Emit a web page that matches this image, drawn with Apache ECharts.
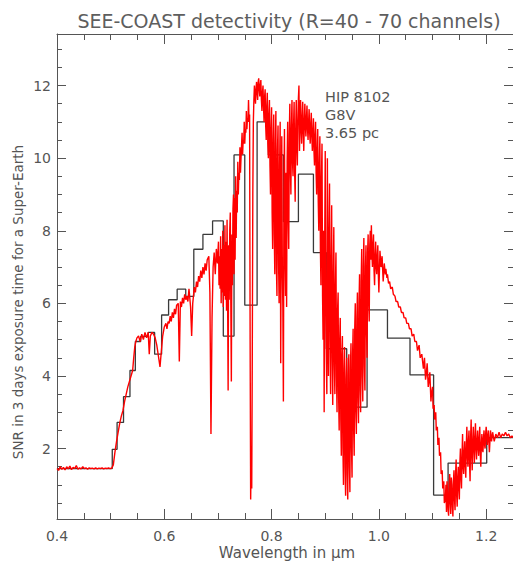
<!DOCTYPE html>
<html>
<head>
<meta charset="utf-8">
<script src="https://cdn.jsdelivr.net/npm/echarts@6/dist/echarts.min.js"></script>
<style>html,body{margin:0;padding:0;background:#fff}#c{width:513px;height:563px}</style>
</head>
<body>
<div id="c"></div>
<script>
// ---- data ----
var xTicks = [0.4, 0.6, 0.8, 1.0, 1.2];
var xMinorTicks = [0.45, 0.5, 0.55, 0.65, 0.7, 0.75, 0.85, 0.9, 0.95, 1.05, 1.1, 1.15];
var yTicks = [2, 4, 6, 8, 10, 12];
var yMinorTicks = [0.5, 1, 1.5, 2.5, 3, 3.5, 4.5, 5, 5.5, 6.5, 7, 7.5, 8.5, 9, 9.5, 10.5, 11, 11.5, 12.5, 13];

// binned SNR (R=40-70 channels): left edge of each bin and its SNR
var binStart = [0.400, 0.503, 0.512, 0.524, 0.536, 0.546, 0.556, 0.570, 0.582, 0.595, 0.608, 0.624, 0.640, 0.655, 0.672, 0.690, 0.710, 0.730, 0.750, 0.773, 0.794, 0.822, 0.850, 0.878, 0.902, 0.940, 0.978, 1.016, 1.058, 1.102, 1.129, 1.201];
var binSnr   = [1.45, 1.98, 2.72, 3.43, 4.15, 4.95, 5.09, 5.20, 4.60, 5.68, 6.10, 6.39, 6.19, 7.49, 7.90, 8.27, 5.10, 10.09, 5.95, 11.00, 10.09, 8.25, 9.56, 7.40, 4.75, 3.14, 5.82, 5.04, 4.03, 0.72, 1.60, 2.30];
var binEnd = 1.25;

// high resolution SNR spectrum [wavelength (um), SNR]
var spectrum = [
[0.400,1.45],[0.403,1.40],[0.406,1.50],[0.409,1.43],[0.412,1.48],[0.415,1.41],[0.418,1.50],[0.421,1.44],[0.424,1.52],[0.427,1.42],[0.430,1.48],[0.433,1.45],[0.436,1.53],[0.439,1.43],[0.442,1.47],[0.445,1.44],[0.448,1.50],[0.451,1.45],[0.454,1.47],[0.457,1.43],[0.460,1.47],[0.463,1.45],[0.466,1.46],[0.469,1.44],[0.472,1.47],[0.475,1.44],[0.478,1.46],[0.481,1.45],[0.484,1.47],[0.487,1.44],[0.490,1.46],[0.493,1.45],[0.496,1.47],[0.499,1.45],[0.502,1.46],
[0.505,1.55],[0.508,1.9],[0.511,2.2],[0.514,2.45],[0.517,2.7],[0.520,2.9],[0.523,3.05],[0.526,3.3],[0.529,3.5],[0.532,3.7],[0.535,3.85],[0.538,4.0],[0.541,4.15],[0.543,4.5],[0.545,4.8],[0.547,4.95],[0.549,5.05],
[0.552,5.1],[0.555,4.95],[0.558,5.15],[0.561,5.0],[0.564,5.2],[0.567,5.05],[0.570,5.2],[0.572,4.6],[0.574,5.1],[0.577,5.2],[0.580,5.15],[0.583,5.05],[0.586,4.85],[0.589,4.55],[0.592,4.25],[0.594,4.6],[0.597,5.1],[0.600,5.35],
[0.603,5.45],[0.605,5.3],[0.607,5.5],[0.609,5.45],[0.611,5.65],[0.613,5.5],[0.615,5.75],[0.617,5.6],[0.619,5.85],[0.621,5.7],[0.623,5.95],[0.626,6.0],[0.628,4.4],[0.630,6.05],[0.632,5.9],[0.634,6.15],[0.636,6.0],[0.638,6.25],[0.640,6.1],[0.642,6.2],[0.644,6.05],[0.646,6.4],[0.649,5.9],[0.651,5.1],[0.653,6.0],[0.656,6.45],[0.658,6.3],[0.660,6.6],[0.662,6.45],[0.664,6.75],[0.666,6.6],[0.668,6.9],[0.670,6.7],[0.672,7.0],[0.674,6.8],[0.676,7.1],[0.678,6.9],[0.680,7.2],[0.683,7.3],[0.685,6.3],[0.687,2.4],[0.689,5.6],[0.691,7.0],[0.693,7.4],[0.695,6.8],[0.697,7.5],[0.699,7.1],
[0.701,7.7],[0.702,6.5],[0.703,7.3],[0.704,6.4],[0.705,7.85],[0.706,6.0],[0.707,7.5],[0.708,6.3],[0.709,8.0],[0.710,5.9],[0.711,7.6],[0.712,6.2],[0.713,8.15],[0.714,6.1],[0.715,7.7],[0.716,5.8],[0.717,8.3],[0.718,6.2],[0.719,3.6],[0.720,7.6],[0.721,6.1],[0.722,8.0],[0.723,8.5],[0.724,6.0],[0.725,3.85],[0.726,7.9],[0.727,6.5],[0.728,8.6],[0.729,9.0],[0.730,6.8],[0.731,8.9],[0.732,7.2],[0.733,9.5],[0.734,7.8],[0.735,9.1],[0.736,8.5],[0.737,9.9],[0.738,9.0],[0.739,9.6],[0.740,9.4],[0.741,10.3],[0.742,9.6],[0.743,10.0],[0.744,10.0],[0.745,10.7],[0.746,10.1],[0.747,10.5],[0.748,10.4],[0.749,11.0],[0.750,10.4],[0.751,10.8],[0.752,10.7],[0.753,11.3],[0.754,10.8],[0.755,11.1],[0.756,11.0],[0.757,11.6],[0.758,11.0],[0.759,11.2],
[0.760,5.0],[0.761,0.6],[0.762,1.8],[0.763,0.9],[0.764,4.5],[0.765,9.0],[0.766,11.0],[0.767,11.6],[0.768,12.0],[0.769,11.7],[0.770,11.5],[0.771,11.9],[0.772,12.1],[0.773,11.8],[0.774,11.6],[0.775,12.1],[0.776,12.2],[0.777,11.9],[0.778,11.7],[0.779,12.0],[0.780,12.15],[0.781,11.6],[0.782,11.3],[0.783,11.8],[0.784,12.0],[0.785,11.4],[0.786,11.0],[0.787,11.7],[0.788,11.9],[0.789,10.9],[0.790,10.5],[0.791,11.4],[0.792,11.8],[0.793,10.4],[0.794,10.0],[0.795,11.2],[0.796,11.6],[0.797,9.8],[0.798,9.0],[0.799,10.8],
[0.800,11.4],[0.801,8.5],[0.802,7.5],[0.803,10.5],[0.804,11.2],[0.805,7.9],[0.806,6.8],[0.807,10.4],[0.808,11.3],[0.809,7.0],[0.810,6.2],[0.811,10.2],[0.812,10.9],[0.813,7.2],[0.814,6.0],[0.815,9.8],[0.816,11.0],[0.817,4.35],[0.818,8.0],[0.819,10.6],[0.820,7.0],[0.821,5.9],[0.822,3.3],[0.823,9.2],[0.824,10.8],[0.825,7.2],[0.826,6.2],[0.827,9.6],[0.828,5.9],[0.829,9.9],[0.830,11.0],[0.831,8.4],[0.832,7.5],[0.833,10.6],[0.834,11.5],[0.835,9.8],[0.836,9.0],[0.837,10.8],[0.838,11.6],[0.839,9.9],[0.840,9.5],[0.841,10.9],[0.842,11.55],[0.843,9.6],[0.844,8.8],[0.845,10.8],[0.846,11.6],[0.847,10.3],[0.848,9.8],[0.849,11.0],[0.850,11.65],[0.851,12.0],[0.852,10.2],[0.853,11.0],[0.854,11.6],[0.855,10.8],[0.856,10.4],[0.857,11.1],[0.858,11.55],[0.859,10.7],[0.860,10.2],[0.861,11.0],[0.862,11.5],[0.863,10.9],[0.864,10.6],[0.865,11.1],[0.866,11.45],[0.867,10.8],[0.868,10.5],[0.869,11.0],[0.870,11.35],[0.871,10.7],[0.872,10.4],[0.873,10.9],[0.874,11.25],[0.875,10.6],[0.876,10.2],[0.877,10.7],[0.878,11.1],[0.879,10.2],[0.880,9.8],[0.881,10.6],[0.882,11.0],[0.883,9.6],[0.884,9.0],[0.885,10.2],[0.886,10.8],[0.887,8.8],[0.888,8.0],[0.889,9.8],[0.890,10.6],[0.891,7.5],[0.892,6.5],[0.893,9.5],[0.894,10.4],[0.895,6.2],[0.896,5.0],[0.897,8.0],[0.898,3.0],[0.899,7.5],
[0.900,10.2],[0.901,6.0],[0.902,4.5],[0.903,3.5],[0.904,10.0],[0.905,5.5],[0.906,4.0],[0.907,8.0],[0.908,9.3],[0.909,5.0],[0.910,3.5],[0.911,7.2],[0.912,8.7],[0.913,4.5],[0.914,3.2],[0.915,6.8],[0.916,8.1],[0.917,4.3],[0.918,3.5],[0.919,6.5],[0.920,7.4],[0.921,4.0],[0.922,3.0],[0.923,5.8],[0.924,6.3],[0.925,3.4],[0.926,2.5],[0.927,5.0],[0.928,5.6],[0.929,2.8],[0.930,1.8],[0.931,4.6],[0.932,5.1],[0.933,2.0],[0.934,1.0],[0.935,4.2],[0.936,4.8],[0.937,1.5],[0.938,0.7],[0.939,3.9],[0.940,4.5],[0.941,1.3],[0.942,0.6],[0.943,4.0],[0.944,4.6],[0.945,1.5],[0.946,0.8],[0.947,4.2],[0.948,4.9],[0.949,2.0],[0.950,1.2],[0.951,4.6],[0.952,5.3],[0.953,2.5],[0.954,1.8],[0.955,5.3],[0.956,6.0],[0.957,3.0],[0.958,2.4],[0.959,5.6],[0.960,6.3],[0.961,3.3],[0.962,2.7],[0.963,6.0],[0.964,6.8],[0.965,3.6],[0.966,3.0],[0.967,6.6],[0.968,7.5],[0.969,4.0],[0.970,3.3],[0.971,7.0],[0.972,7.8],[0.973,4.3],[0.974,3.6],[0.975,7.0],[0.976,7.6],[0.977,5.2],[0.978,4.5],[0.979,7.4],[0.980,7.9],[0.981,6.0],[0.982,5.5],[0.983,7.6],[0.984,8.0],[0.985,7.2],[0.986,8.15],[0.987,7.4],[0.988,7.0],[0.989,7.6],[0.990,7.9],[0.991,6.9],[0.992,6.5],[0.993,7.3],[0.994,7.7],[0.995,7.0],[0.996,6.8],[0.997,7.3],[0.998,7.6],[0.999,6.8],
[1.000,6.3],[1.002,7.45],[1.004,7.0],[1.006,7.3],[1.008,6.6],[1.010,7.1],[1.012,6.8],[1.013,6.95],[1.015,6.7],[1.016,6.8],[1.018,6.55],[1.020,6.6],[1.022,6.4],[1.025,6.45],[1.027,6.25],[1.030,6.2],[1.032,6.05],[1.035,6.05],[1.037,5.9],[1.040,5.9],[1.042,5.75],[1.045,5.75],[1.047,5.6],[1.050,5.6],[1.052,5.45],[1.055,5.45],[1.057,5.3],[1.060,5.3],[1.062,5.1],[1.065,5.15],[1.067,4.95],[1.070,4.95],[1.072,4.7],[1.075,4.85],[1.077,4.5],[1.080,4.6],[1.083,4.2],[1.085,4.5],[1.087,3.9],[1.088,4.0],[1.090,4.35],[1.092,3.7],[1.093,3.8],[1.095,4.1],[1.097,3.3],[1.098,3.5],
[1.100,3.7],[1.101,3.1],[1.103,3.2],[1.104,2.8],[1.106,3.0],[1.107,2.5],[1.109,2.6],[1.110,2.1],[1.112,2.3],[1.113,1.8],[1.115,1.9],[1.116,1.3],[1.118,1.4],[1.119,0.9],[1.121,1.1],[1.122,0.5],[1.124,0.6],[1.125,1.0],[1.126,0.25],[1.127,1.1],[1.128,0.8],[1.129,0.3],[1.130,0.15],[1.131,1.0],[1.132,1.3],[1.133,0.5],[1.134,0.2],[1.135,1.2],[1.136,1.0],[1.137,0.4],[1.138,0.13],[1.139,1.1],[1.140,1.4],[1.141,0.6],[1.142,0.3],[1.143,1.3],[1.144,1.7],[1.145,0.7],[1.146,0.4],[1.147,1.2],[1.148,1.5],[1.149,0.9],[1.150,0.6],[1.151,1.6],[1.152,2.0],[1.153,1.2],[1.154,0.9],[1.155,1.8],[1.156,2.4],[1.157,1.5],[1.158,1.3],[1.159,1.9],[1.160,2.2],[1.161,1.5],[1.162,1.2],[1.163,2.1],[1.164,2.6],[1.165,1.8],[1.166,1.5],[1.167,2.2],[1.168,2.5],[1.169,1.6],[1.170,1.1],[1.171,2.3],[1.172,2.8],[1.173,1.8],[1.174,1.4],[1.175,2.2],[1.176,2.6],[1.177,2.0],[1.178,1.6],[1.179,2.3],[1.180,2.7],[1.181,2.0],[1.182,1.7],[1.183,2.2],[1.184,2.5],[1.185,2.0],[1.186,1.8],[1.187,2.3],[1.188,2.6],[1.189,1.9],[1.190,1.5],[1.191,2.1],[1.192,2.4],[1.193,2.0],[1.194,1.9],[1.195,2.3],[1.196,2.5],[1.197,2.1],[1.198,2.0],[1.199,2.4],
[1.200,2.6],[1.202,2.1],[1.204,2.5],[1.206,1.9],[1.208,2.5],[1.210,2.2],[1.212,2.45],[1.215,2.2],[1.218,2.4],[1.221,2.3],[1.224,2.45],[1.227,2.3],[1.230,2.4],[1.233,2.35],[1.236,2.45],[1.239,2.35],[1.242,2.4],[1.245,2.3],[1.248,2.35],[1.250,2.3]
];

var titleText = 'SEE-COAST detectivity (R=40 - 70 channels)';
var starLines = ['HIP 8102', 'G8V', '3.65 pc'];

// ---- chart ----
var binData = binStart.map(function (x, i) { return [x, binSnr[i]]; });
binData.push([binEnd, binSnr[binSnr.length - 1]]);

var GRAY = '#555555';
var FONT = 'DejaVu Sans';
var X_MIN = 0.4, X_MAX = 1.25, Y_MIN = 0.06, Y_MAX = 13.42;

function xAx(pos, minor, showLine, showLabel) {
  return {
    type: 'value', position: pos, min: X_MIN, max: X_MAX,
    axisLine: { show: showLine, onZero: false, lineStyle: { color: GRAY, width: 1 } },
    axisTick: { show: true, inside: true, length: minor ? 6 : 10, customValues: minor ? xMinorTicks : xTicks, lineStyle: { color: GRAY, width: 1 } },
    axisLabel: { show: showLabel, customValues: xTicks, color: GRAY, fontSize: 14, fontFamily: FONT, margin: 10,
      formatter: function (v) { return v.toFixed(1); } },
    splitLine: { show: false }, minorTick: { show: false }
  };
}
function yAx(pos, minor, showLine, showLabel) {
  return {
    type: 'value', position: pos, min: Y_MIN, max: Y_MAX,
    axisLine: { show: showLine, onZero: false, lineStyle: { color: GRAY, width: 1 } },
    axisTick: { show: true, inside: true, length: minor ? 5 : 9, customValues: minor ? yMinorTicks : yTicks, lineStyle: { color: GRAY, width: 1 } },
    axisLabel: { show: showLabel, customValues: yTicks, color: GRAY, fontSize: 14, fontFamily: FONT, margin: 6,
      formatter: function (v) { return String(Math.round(v)); } },
    splitLine: { show: false }, minorTick: { show: false }
  };
}

var chart = echarts.init(document.getElementById('c'), null, { renderer: 'svg', width: 513, height: 563 });
chart.setOption({
  animation: false,
  backgroundColor: '#ffffff',
  grid: { left: 57, right: 0, top: 34, bottom: 44, containLabel: false },
  xAxis: [xAx('bottom', false, true, true), xAx('bottom', true, false, false), xAx('top', false, true, false), xAx('top', true, false, false)],
  yAxis: [yAx('left', false, true, true), yAx('left', true, false, false), yAx('right', false, true, false), yAx('right', true, false, false)],
  series: [
    { type: 'line', data: binData, step: 'end', showSymbol: false, symbol: 'none', xAxisIndex: 0, yAxisIndex: 0,
      lineStyle: { color: '#3a3a3a', width: 1.3 }, z: 2 },
    { type: 'line', data: spectrum, showSymbol: false, symbol: 'none', xAxisIndex: 0, yAxisIndex: 0,
      lineStyle: { color: '#ff0000', width: 1.4 }, z: 3 }
  ],
  graphic: [
    { type: 'text', x: 289, y: 21, style: { text: titleText, fill: '#5e5e5e', font: '19px "DejaVu Sans"', align: 'center', verticalAlign: 'middle' } },
    { type: 'text', x: 287, y: 553, style: { text: 'Wavelength in \u03bcm', fill: GRAY, font: '15px "DejaVu Sans"', align: 'center', verticalAlign: 'middle' } },
    { type: 'text', x: 18, y: 302, rotation: Math.PI / 2, style: { text: 'SNR in 3 days exposure time for a Super-Earth', fill: GRAY, font: '13.5px "DejaVu Sans"', align: 'center', verticalAlign: 'middle' } },
    { type: 'text', x: 325, y: 88, style: { text: starLines.join('\n'), fill: GRAY, font: '14.5px "DejaVu Sans"', lineHeight: 18 } }
  ]
});
</script>
</body>
</html>
